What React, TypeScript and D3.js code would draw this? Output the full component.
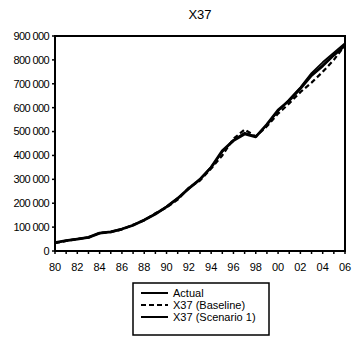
import React from "react";
import * as d3 from "d3";

const years = [
  1980, 1981, 1982, 1983, 1984, 1985, 1986, 1987, 1988, 1989, 1990, 1991, 1992, 1993,
  1994, 1995, 1996, 1997, 1998, 1999, 2000, 2001, 2002, 2003, 2004, 2005, 2006,
];
const actual = [
  35000, 43000, 50000, 57000, 75000, 80000, 92000, 108000, 130000, 155000, 185000, 220000,
  262000, 300000, 350000, 420000, 462000, 490000, 478000, 530000, 590000, 630000, 680000,
  735000, 775000, 820000, 860000,
];
const baseline = [
  33000, 42000, 50000, 56000, 76000, 79000, 90000, 110000, 128000, 158000, 182000, 215000,
  265000, 295000, 345000, 400000, 470000, 508000, 480000, 522000, 575000, 618000, 665000,
  705000, 750000, 800000, 862000,
];
const scenario1 = [
  34000, 44000, 51000, 58000, 74000, 81000, 93000, 107000, 131000, 154000, 186000, 222000,
  260000, 302000, 352000, 415000, 465000, 495000, 480000, 528000, 585000, 635000, 685000,
  745000, 790000, 830000, 870000,
];
const yTicks = [0, 100000, 200000, 300000, 400000, 500000, 600000, 700000, 800000, 900000];
const xLabelYears = [1980, 1982, 1984, 1986, 1988, 1990, 1992, 1994, 1996, 1998, 2000, 2002, 2004, 2006];
const legendLabels = ["Actual", "X37 (Baseline)", "X37 (Scenario 1)"];

const W = 356;
const H = 339;
const left = 55;
const right = 345;
const top = 36;
const bottom = 251;

export default function App() {
  const x = d3.scaleLinear().domain([1980, 2006]).range([left, right]);
  const y = d3.scaleLinear().domain([0, 900000]).range([bottom, top]);
  const line = d3
    .line<number>()
    .x((_, i) => x(years[i]))
    .y((d) => y(d));

  const fmt = (v: number) => {
    if (v === 0) return "0";
    const s = String(v);
    return s.slice(0, s.length - 3) + " " + s.slice(-3);
  };

  const font = "Liberation Sans, Arial, sans-serif";
  const allYears = d3.range(1980, 2007);

  const series = [
    { data: baseline, width: 2.2, dash: "5,3" },
    { data: scenario1, width: 1.8, dash: undefined },
    { data: actual, width: 2.8, dash: undefined },
  ];

  const legendStyles = [
    { width: 2, dash: undefined },
    { width: 2, dash: "5,3" },
    { width: 2, dash: undefined },
  ];

  return (
    <svg
      width={W}
      height={H}
      style={{ position: "absolute", left: 0, top: 0, background: "#fff" }}
      fontFamily={font}
    >
      <rect x={0} y={0} width={W} height={H} fill="#fff" />
      <text x={(left + right) / 2} y={19} textAnchor="middle" fontSize={13}>
        X37
      </text>

      {series.map((s, i) => (
        <path
          key={i}
          d={line(s.data) || ""}
          fill="none"
          stroke="#000"
          strokeWidth={s.width}
          strokeDasharray={s.dash}
          strokeLinejoin="round"
        />
      ))}

      <rect
        x={left}
        y={top}
        width={right - left}
        height={bottom - top}
        fill="none"
        stroke="#000"
        strokeWidth={2}
      />

      {yTicks.map((t) => (
        <g key={t}>
          <line x1={left - 3} x2={left} y1={y(t)} y2={y(t)} stroke="#000" strokeWidth={1.5} />
          <text
            x={left - 6}
            y={y(t)}
            dy="0.35em"
            textAnchor="end"
            fontSize={11}
            letterSpacing={-0.6}
          >
            {fmt(t)}
          </text>
        </g>
      ))}

      {allYears.map((yr) => (
        <line
          key={yr}
          x1={x(yr)}
          x2={x(yr)}
          y1={bottom}
          y2={bottom + 3}
          stroke="#000"
          strokeWidth={1.5}
        />
      ))}
      {xLabelYears.map((yr) => (
        <text key={yr} x={x(yr)} y={271} textAnchor="middle" fontSize={11}>
          {String(yr).slice(2)}
        </text>
      ))}

      <g transform="translate(133,283)">
        <rect x={0} y={0} width={136} height={52} fill="#fff" stroke="#000" strokeWidth={1.5} />
        {legendLabels.map((lab, i) => (
          <g key={lab} transform={`translate(0,${10 + i * 12})`}>
            <line
              x1={8}
              x2={35}
              y1={0}
              y2={0}
              stroke="#000"
              strokeWidth={legendStyles[i].width}
              strokeDasharray={legendStyles[i].dash}
            />
            <text x={40} y={0} dy="0.35em" fontSize={11}>
              {lab}
            </text>
          </g>
        ))}
      </g>
    </svg>
  );
}
